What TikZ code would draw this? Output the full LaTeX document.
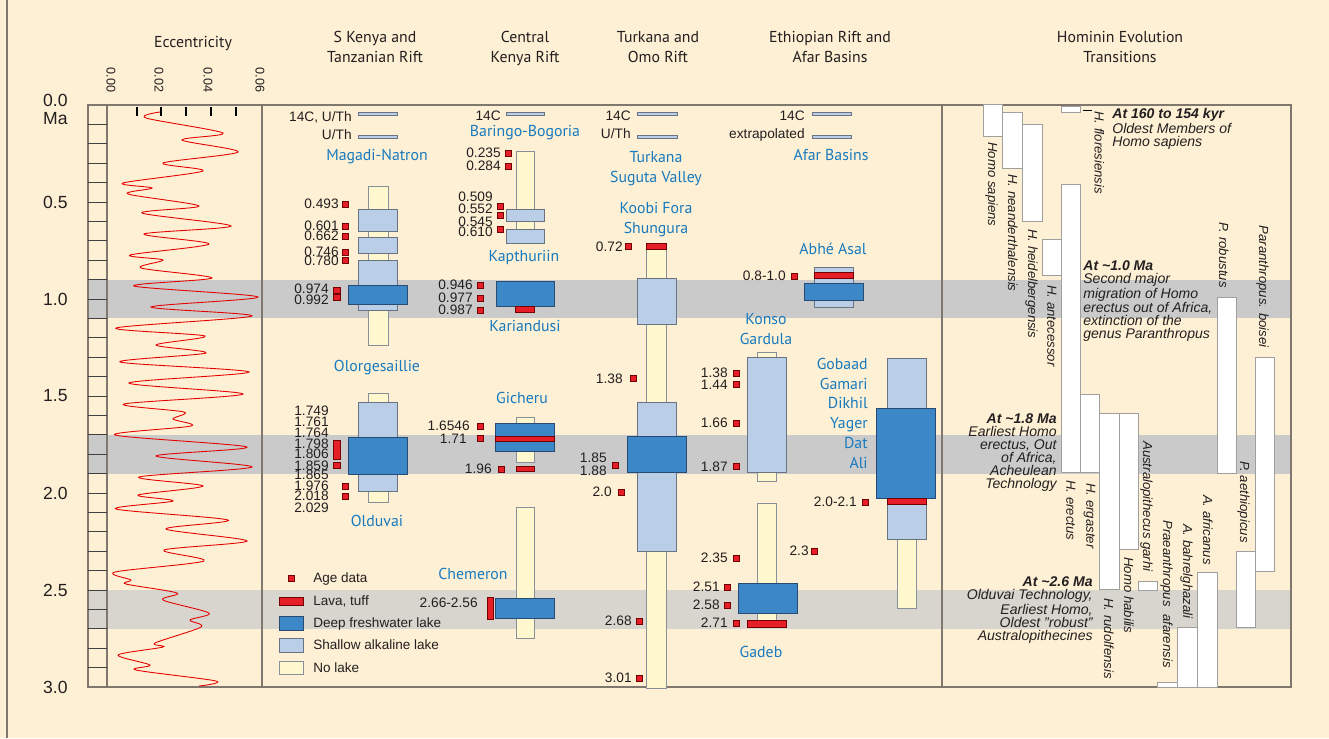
\documentclass[tikz,border=0pt]{standalone}
\usepackage{fontspec}
\setmainfont{Liberation Sans}
\newfontfamily\ptsans{PT Sans}
\usepackage{xcolor}
\usepackage{tikz}
\usetikzlibrary{positioning}

\definecolor{paper}{RGB}{254,240,212}
\definecolor{bandgrey}{RGB}{202,202,202}
\definecolor{bandwarm}{RGB}{216,213,206}
\definecolor{deepblue}{RGB}{59,135,199}
\definecolor{deepline}{RGB}{40,75,115}
\definecolor{shallowblue}{RGB}{186,206,232}
\definecolor{boxline}{RGB}{105,115,130}
\definecolor{nolakeyellow}{RGB}{255,248,206}
\definecolor{lavared}{RGB}{230,30,40}
\definecolor{sitecol}{RGB}{24,122,190}
\definecolor{framegrey}{RGB}{128,120,110}
\definecolor{textgrey}{RGB}{35,31,32}

\newcommand{\agefont}{\fontsize{7.8}{8}\selectfont}
\newcommand{\sitefont}{\ptsans\fontsize{9}{11.2}\selectfont}
\newcommand{\headfont}{\ptsans\fontsize{9}{11.3}\selectfont}
\newcommand{\notefont}{\itshape\fontsize{8}{7.4}\selectfont}
\newcommand{\taxfont}{\itshape\fontsize{7.5}{9}\selectfont}
\newcommand{\legfont}{\fontsize{7.7}{9}\selectfont}
\newcommand{\axfont}{\fontsize{10}{10.2}\selectfont}
\newcommand{\eccfont}{\fontsize{7.2}{8}\selectfont}

% red square for one dated level
\newcommand{\agedot}[2]{\draw[agedot] (#1,{#2-3}) rectangle ({#1+6.5},{#2+3});}

\tikzset{
  frame/.style={draw=framegrey, line width=0.6pt},
  tick/.style={draw=black!75, line width=0.5pt},
  deep/.style={fill=deepblue, draw=deepline, line width=0.5pt},
  shallow/.style={fill=shallowblue, draw=boxline, line width=0.5pt},
  nolake/.style={fill=nolakeyellow, draw=boxline!80, line width=0.4pt},
  lava/.style={fill=lavared, draw=red!45!black, line width=0.4pt},
  agedot/.style={fill=lavared, draw=red!45!black, line width=0.4pt},
  taxon/.style={fill=white, draw=gray!75, line width=0.5pt},
  age/.style={anchor=east, inner sep=0pt, font=\agefont, text=textgrey},
  site/.style={inner sep=0pt, text depth=0pt, font=\sitefont, text=sitecol},
  colhead/.style={anchor=north, align=center, inner sep=0pt, font=\headfont, text=textgrey},
  leg/.style={anchor=west, inner sep=0pt, text depth=0pt, font=\legfont, text=textgrey},
  taxlabel/.style={rotate=-90, inner sep=0pt, text depth=0pt, font=\taxfont, text=textgrey},
  note/.style={inner sep=0pt, font=\notefont, text=textgrey}
}

\begin{document}
\begin{tikzpicture}[x=0.02cm, y=-0.02cm]
\useasboundingbox (0,0) rectangle (1329,738);
% paper and grey time bands
\fill[paper] (0,0) rectangle (1329,738);
\draw[frame] (7,0) -- (7,738);
\fill[bandgrey] (88,279.6) rectangle (1291,318.4);
\fill[bandgrey] (88,434.8) rectangle (1291,473.6);
\fill[bandwarm] (88,590) rectangle (1291,628.8);

% frame and time ruler
\draw[frame] (88,105) rectangle (1291,687);
\draw[frame] (107,105) -- (107,687) (262,105) -- (262,687) (942,105) -- (942,687);
\foreach \i in {1,...,29}
  \draw[tick] (88,{105+19.4*\i}) -- (107,{105+19.4*\i});
\node[anchor=north east, align=right, inner sep=0pt, font=\axfont, text=textgrey] (ma0) at (68,94) {0.0\\Ma};
\foreach \m [count=\i] in {0.5,1.0,1.5,2.0,2.5,3.0}
  \node[anchor=east, inner sep=0pt, font=\axfont, text=textgrey] (ma\i) at (68,{105+194*\m}) {\m};

% eccentricity
\node[colhead] (hd-ecc) at (193,36) {Eccentricity};
\foreach \v/\x in {0.00/111, 0.02/159, 0.04/208, 0.06/260}
  \node[rotate=-90, inner sep=0pt, font=\eccfont, text=textgrey] (ecc\x) at (\x,80) {\v};
\foreach \x in {137,161,186,211,236}
  \draw[black, line width=0.8pt] (\x,107) -- (\x,116);
\draw[red!90!black, line width=0.5pt] plot[smooth, tension=0.5] coordinates {
  (160,112) (146,118) (223,133) (182,140) (238,152) (163,163) (203,171) (123,183)
  (152,188) (128,194) (199,206) (142,213) (231,226) (144,234) (209,244) (130,255)
  (163,260) (141,268) (212,278) (134,286) (258,297) (151,307) (252,316) (116,328)
  (205,336) (156,345) (206,353) (120,362) (249,372) (129,383) (243,394) (124,404)
  (184,412) (173,419) (191,426) (115,435) (247,447) (156,456) (252,467) (139,477)
  (203,486) (138,495) (173,501) (116,509) (228,520) (166,529) (247,541) (164,550)
  (204,561) (115,572) (131,580) (126,584) (177,593) (163,600) (209,613) (190,620)
  (201,627) (155,643) (163,647) (118,655) (150,665) (136,670) (216,681) (199,686)};

% S Kenya and Tanzanian Rift
\node[colhead] (hd-sk) at (375,31) {S Kenya and\\Tanzanian Rift};
\node[age] (sk-c14) at (352,117) {14C, U/Th};
\draw[shallow] (358,112) rectangle (397,115);
\node[age] (sk-uth) at (352,135) {U/Th};
\draw[shallow] (358,135) rectangle (397,138);
\node[site] (magadi) at (377,155) {Magadi-Natron};
\draw[nolake] (368,186) rectangle (388,345);
\draw[shallow] (358,209) rectangle (397,231);
\draw[shallow] (358,237) rectangle (397,253);
\draw[shallow] (358,260) rectangle (397,310);
\draw[deep] (348,285) rectangle (407,304);
\foreach \t/\y [count=\i] in {0.493/204, 0.601/226, 0.662/236, 0.746/252, 0.780/260.5}{
  \node[age] (sk\i) at (339,\y) {\t};
  \agedot{342}{\y}
}
\node[age] (sk-0974) at (329,289) {0.974};
\node[age] (sk-0992) at (329,300) {0.992};
\agedot{333.5}{290.5}
\agedot{333.5}{297.5}
\node[site] (olorg) at (377,366) {Olorgesaillie};
\draw[nolake] (368,393) rectangle (388,502);
\draw[shallow] (358,402) rectangle (397,491);
\draw[deep] (348,437) rectangle (407,474);
\foreach \t/\y [count=\i] in {1.749/411, 1.761/422, 1.764/433, 1.798/444, 1.806/454,
    1.859/466, 1.865/475, 1.976/486, 2.018/496, 2.029/508}
  \node[age] (ol\i) at (329,\y) {\t};
\draw[lava] (333,440) rectangle (340,459);
\agedot{333.5}{465.5}
\agedot{342}{486}
\agedot{342}{496.5}
\node[site] (olduvai) at (377,521) {Olduvai};

% legend
\agedot{288}{578}
\node[leg] (lg-age) at (313,578) {Age data};
\draw[lava] (279,597) rectangle (303,605);
\node[leg] (lg-lava) at (313,601) {Lava, tuff};
\draw[deep] (279,616) rectangle (303,630);
\node[leg] (lg-deep) at (313,623) {Deep freshwater lake};
\draw[shallow] (279,638) rectangle (303,652);
\node[leg] (lg-shallow) at (313,645) {Shallow alkaline lake};
\draw[nolake] (279,661) rectangle (303,674);
\node[leg] (lg-nolake) at (313,668) {No lake};

% Central Kenya Rift
\node[colhead] (hd-ck) at (525,31) {Central\\Kenya Rift};
\node[age] (ck-c14) at (501,116) {14C};
\draw[shallow] (506,112) rectangle (544,115);
\node[site] (baringo) at (525,131) {Baringo-Bogoria};
\draw[nolake] (516,151) rectangle (534,243);
\draw[shallow] (506,209) rectangle (544,221);
\draw[shallow] (506,229) rectangle (544,243);
\foreach \t/\y [count=\i] in {0.235/153, 0.284/166}{
  \node[age] (bb\i) at (501,\y) {\t};
  \agedot{505}{\y}
}
\foreach \t/\y [count=\i] in {0.509/197, 0.552/209, 0.545/222, 0.610/232}
  \node[age] (kp\i) at (493,\y) {\t};
\agedot{497}{206}
\agedot{497}{215}
\agedot{497}{229}
\node[site] (kapth) at (524,256) {Kapthuriin};
\draw[deep] (496,281) rectangle (554,306);
\draw[lava] (515,306) rectangle (534,312);
\foreach \t/\y [count=\i] in {0.946/285, 0.977/298, 0.987/310}{
  \node[age] (kr\i) at (473,\y) {\t};
  \agedot{477}{\y}
}
\node[site] (kariand) at (525,326) {Kariandusi};
\node[site] (gicheru) at (522,398) {Gicheru};
\draw[nolake] (516,417) rectangle (534,462);
\draw[deep] (495,423) rectangle (554,451);
\draw[lava] (495,436) rectangle (554,441);
\draw[lava] (516,466) rectangle (534,471);
\node[age] (gc1) at (470,426) {1.6546};
\agedot{477}{426}
\node[age] (gc2) at (467,439) {1.71};
\agedot{477}{438}
\node[age] (gc3) at (492,469) {1.96};
\agedot{498}{469}
\draw[nolake] (516,507) rectangle (534,638);
\node[site] (chemeron) at (473,574) {Chemeron};
\draw[deep] (495,598) rectangle (554,618);
\draw[lava] (487,597) rectangle (493,619);
\node[age] (ch1) at (478,603) {2.66-2.56};

% Turkana and Omo Rift
\node[colhead] (hd-tk) at (658,31) {Turkana and\\Omo Rift};
\node[age] (tk-c14) at (631,116) {14C};
\draw[shallow] (637,112) rectangle (677,115);
\node[age] (tk-uth) at (631,134) {U/Th};
\draw[shallow] (637,135) rectangle (677,138);
\node[site, anchor=north, align=center] (turkana) at (656,151) {Turkana\\Suguta Valley};
\node[site, anchor=north, align=center] (koobi) at (656,202) {Koobi Fora\\Shungura};
\draw[nolake] (646,249) rectangle (666,688);
\draw[lava] (646,243) rectangle (666,249);
\draw[shallow] (637,278) rectangle (676,324);
\draw[shallow] (637,402) rectangle (676,551);
\draw[deep] (627,436) rectangle (686,472);
\node[age] (tk1) at (623,247) {0.72};
\agedot{625}{246}
\node[age] (tk2) at (623,379) {1.38};
\agedot{630}{378}
\node[age] (tk3) at (607,458) {1.85};
\node[age] (tk4) at (607,471) {1.88};
\agedot{612}{465}
\node[age] (tk5) at (612,492) {2.0};
\agedot{618}{492}
\node[age] (tk6) at (632,621) {2.68};
\agedot{636}{621}
\node[age] (tk7) at (632,678) {3.01};
\agedot{636}{678}

% Ethiopian Rift and Afar Basins
\node[colhead] (hd-et) at (830,31) {Ethiopian Rift and\\Afar Basins};
\node[age] (et-c14) at (805,116) {14C};
\draw[shallow] (812,112) rectangle (851,115);
\node[age] (et-ext) at (805,135) {extrapolated};
\draw[shallow] (812,135) rectangle (851,138);
\node[site] (afar) at (831,155) {Afar Basins};
\node[site] (abhe) at (833,249) {Abhé Asal};
\draw[shallow] (814,267) rectangle (853,307);
\draw[lava] (814,272) rectangle (853,278);
\draw[deep] (804,283) rectangle (863,300);
\node[age] (ab1) at (786,276) {0.8-1.0};
\agedot{791}{276}
\node[site, anchor=north, align=center] (konso) at (766,313) {Konso\\Gardula};
\draw[nolake] (757,352) rectangle (776,481);
\draw[shallow] (747,357) rectangle (786,472);
\foreach \t/\y [count=\i] in {1.38/373, 1.44/384.5, 1.66/423, 1.87/466.5}{
  \node[age] (ko\i) at (728,\y) {\t};
  \agedot{733}{\y}
}
\draw[nolake] (757,503) rectangle (776,620);
\draw[deep] (738,583) rectangle (797,613);
\draw[lava] (747,620) rectangle (786,627);
\node[age] (gd1) at (728,558) {2.35};
\agedot{733}{558}
\node[age] (gd2) at (720,587) {2.51};
\agedot{724}{587}
\node[age] (gd3) at (720,605) {2.58};
\agedot{724}{605}
\node[age] (gd4) at (728,623) {2.71};
\agedot{733}{623}
\node[age] (gd5) at (809,551) {2.3};
\agedot{811}{551}
\node[site] (gadeb) at (761,652) {Gadeb};
\draw[nolake] (897,539) rectangle (916,608);
\draw[shallow] (887,358) rectangle (926,539);
\draw[deep] (876,408) rectangle (935,498);
\draw[lava] (887,498) rectangle (926,504);
\node[site, anchor=north east, align=right] (gobaad) at (868,358)
  {Gobaad\\Gamari\\Dikhil\\Yager\\Dat\\Ali};
\node[age] (gb1) at (857,502) {2.0-2.1};
\agedot{862}{502}

% Hominin Evolution Transitions
\node[colhead] (hd-hom) at (1120,31) {Hominin Evolution\\Transitions};
\draw[taxon] (983,104) rectangle (1002,136);
\node[taxlabel, anchor=west] (t-sap) at (993,142) {Homo sapiens};
\draw[taxon] (1002,112) rectangle (1022,168);
\node[taxlabel, anchor=west] (t-nea) at (1013,174) {H. neanderthalensis};
\draw[taxon] (1022,124) rectangle (1042,221);
\node[taxlabel, anchor=west] (t-hei) at (1033,229) {H. heidelbergensis};
\draw[taxon] (1042,239) rectangle (1061,275);
\node[taxlabel, anchor=west] (t-ant) at (1052,285) {H. antecessor};
\draw[taxon] (1061,106) rectangle (1080,112);
\draw[black, line width=0.5pt] (1083,110) -- (1092,110);
\node[taxlabel, anchor=west] (t-flo) at (1099.5,111) {H. floresiensis};
\draw[taxon] (1061,184) rectangle (1080,472);
\node[taxlabel, anchor=west] (t-ere) at (1071,480) {H. erectus};
\draw[taxon] (1080,394) rectangle (1099,472);
\node[taxlabel, anchor=west] (t-erg) at (1091,483) {H. ergaster};
\draw[taxon] (1099,413) rectangle (1119,589);
\node[taxlabel, anchor=west] (t-rud) at (1109,598) {H. rudolfensis};
\draw[taxon] (1119,413) rectangle (1138,549);
\node[taxlabel, anchor=west] (t-hab) at (1129,557) {Homo habilis};
\draw[taxon] (1138,581) rectangle (1157,590);
\node[taxlabel, anchor=east] (t-gar) at (1148,572) {Australopithecus garhi};
\draw[taxon] (1157,682) rectangle (1177,687);
\node[taxlabel, anchor=east] (t-afa) at (1168,668) {Praeanthropus\ \ afarensis};
\draw[taxon] (1177,627) rectangle (1197,687);
\node[taxlabel, anchor=east] (t-bah) at (1188,619) {A. bahrelghazali};
\draw[taxon] (1197,572) rectangle (1217,687);
\node[taxlabel, anchor=east] (t-afr) at (1208,565) {A. africanus};
\draw[taxon] (1217,297) rectangle (1236,473);
\node[taxlabel, anchor=east] (t-rob) at (1224,288) {P. robustus};
\draw[taxon] (1236,551) rectangle (1255,627);
\node[taxlabel, anchor=east] (t-aet) at (1245,543) {P. aethiopicus};
\draw[taxon] (1255,357) rectangle (1274,571);
\node[taxlabel, anchor=east] (t-boi) at (1264,348) {Paranthropus. boisei};

% transitions
\node[note, anchor=north west, align=left] (n160) at (1112,108)
  {\bfseries At 160 to 154 kyr\\Oldest Members of\\Homo sapiens};
\node[note, anchor=north west, align=left] (n10) at (1083,260)
  {\textbf{At \textasciitilde1.0 Ma}\\Second major\\migration of Homo\\erectus out of Africa,\\extinction of the\\genus Paranthropus};
\node[note, anchor=north east, align=right] (n18) at (1057,413)
  {\textbf{At \textasciitilde1.8 Ma}\\Earliest Homo\\erectus, Out\\of Africa,\\Acheulean\\Technology};
\node[note, anchor=north east, align=right] (n26) at (1093,576)
  {\textbf{At \textasciitilde2.6 Ma}\\Olduvai Technology,\\Earliest Homo,\\Oldest \symbol{34}robust\symbol{34}\\Australopithecines};
\end{tikzpicture}
\end{document}
